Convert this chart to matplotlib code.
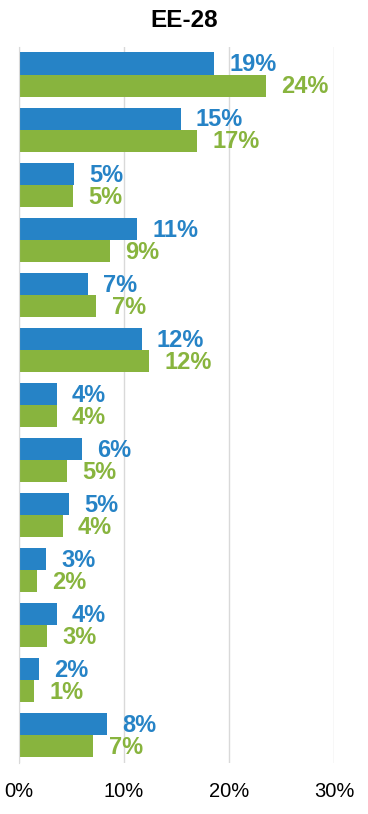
import matplotlib.pyplot as plt
import numpy as np

plt.rcParams["font.family"] = ["Liberation Sans", "DejaVu Sans"]

title = "EE-28"
blue_vals = [18.6, 15.4, 5.25, 11.3, 6.6, 11.7, 3.6, 6.0, 4.8, 2.6, 3.6, 1.9, 8.4]
green_vals = [23.5, 17.0, 5.15, 8.7, 7.4, 12.4, 3.6, 4.6, 4.2, 1.7, 2.7, 1.45, 7.1]
blue_labels = ["19%", "15%", "5%", "11%", "7%", "12%", "4%", "6%", "5%", "3%", "4%", "2%", "8%"]
green_labels = ["24%", "17%", "5%", "9%", "7%", "12%", "4%", "5%", "4%", "2%", "3%", "1%", "7%"]
xticks = [0, 10, 20, 30]

blue = "#2683C6"
green = "#88B43E"

fig = plt.figure(figsize=(3.68, 8.14), dpi=100)
ax = fig.add_axes([0.0508, 0.0627, 0.857, 0.8796])

y = np.arange(len(blue_vals))
h = 0.4
ax.barh(y - h / 2, blue_vals, height=h, color=blue, zorder=2)
ax.barh(y + h / 2, green_vals, height=h, color=green, zorder=2)

for yi, v, lab in zip(y, blue_vals, blue_labels):
    ax.annotate(lab, (v, yi - h / 2), xytext=(11, -1), textcoords="offset points",
                va="center", ha="left", fontsize=17, fontweight="bold", color=blue)
for yi, v, lab in zip(y, green_vals, green_labels):
    ax.annotate(lab, (v, yi + h / 2), xytext=(11, -1), textcoords="offset points",
                va="center", ha="left", fontsize=17, fontweight="bold", color=green)

ax.set_xlim(0, 30)
ax.set_ylim(len(blue_vals) - 0.5, -0.5)
ax.set_xticks(xticks)
ax.set_xticklabels([f"{t}%" for t in xticks], fontsize=14.5)
ax.set_yticks([])
ax.tick_params(axis="x", length=0, pad=14)
ax.grid(axis="x", color="#D9D9D9", linewidth=1, zorder=0)
for s in ["top", "right", "bottom"]:
    ax.spines[s].set_visible(False)
ax.spines["left"].set_color("#D9D9D9")

fig.text(0.5, 0.975, title, ha="center", va="center", fontsize=17.5, fontweight="bold")

fig.savefig("out.png", dpi=100)
